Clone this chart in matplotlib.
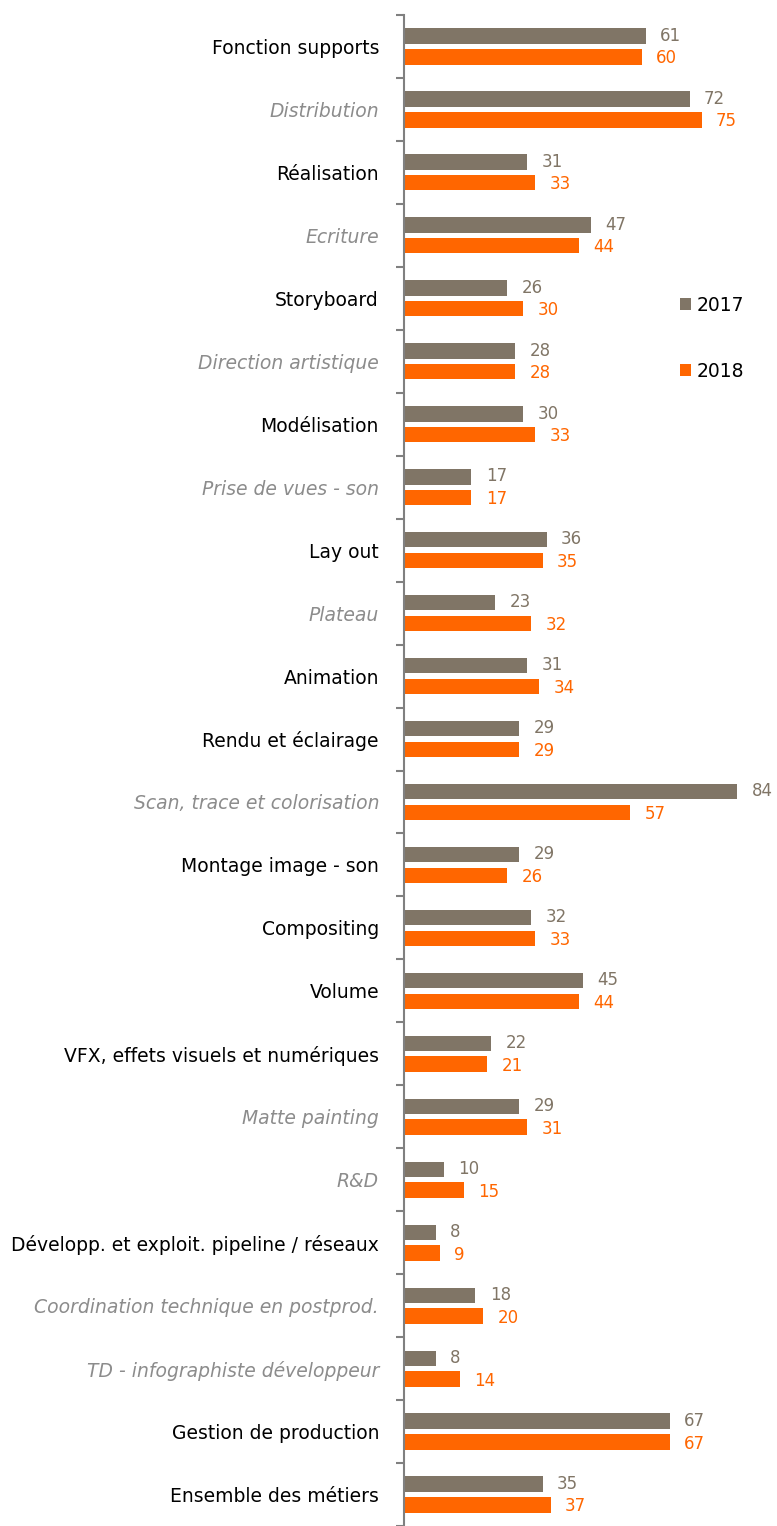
import numpy as np
import matplotlib.pyplot as plt

# metiers, top to bottom
categories = ['Fonction supports', 'Distribution', 'Réalisation', 'Ecriture', 'Storyboard',
              'Direction artistique', 'Modélisation', 'Prise de vues - son', 'Lay out', 'Plateau',
              'Animation', 'Rendu et éclairage', 'Scan, trace et colorisation', 'Montage image - son',
              'Compositing', 'Volume', 'VFX, effets visuels et numériques', 'Matte painting', 'R&D',
              'Développ. et exploit. pipeline / réseaux', 'Coordination technique en postprod.',
              'TD - infographiste développeur', 'Gestion de production', 'Ensemble des métiers']
italic_cats = ['Distribution', 'Ecriture', 'Direction artistique', 'Prise de vues - son', 'Plateau',
               'Scan, trace et colorisation', 'Matte painting', 'R&D',
               'Coordination technique en postprod.', 'TD - infographiste développeur']
v2017 = [61, 72, 31, 47, 26, 28, 30, 17, 36, 23, 31, 29, 84, 29, 32, 45, 22, 29, 10, 8, 18, 8, 67, 35]
v2018 = [60, 75, 33, 44, 30, 28, 33, 17, 35, 32, 34, 29, 57, 26, 33, 44, 21, 31, 15, 9, 20, 14, 67, 37]

c17 = '#807566'
c18 = '#ff6600'

fig = plt.figure(figsize=(7.77, 15.26), dpi=100)
ax = fig.add_axes([404 / 777, 0, 1 - 404 / 777, (1526 - 15) / 1526])

y = np.arange(len(categories))
h = 0.245
b1 = ax.barh(y - 0.165, v2017, height=h, color=c17, label='2017')
b2 = ax.barh(y + 0.165, v2018, height=h, color=c18, label='2018')

for yy, v in zip(y, v2017):
    ax.text(v + 3.6, yy - 0.17, str(v), color=c17, fontsize=12, va='center', ha='left')
for yy, v in zip(y, v2018):
    ax.text(v + 3.6, yy + 0.19, str(v), color=c18, fontsize=12, va='center', ha='left')

ax.set_xlim(0, 94)
ax.set_ylim(len(categories) - 0.5, -0.5)

for s in ['top', 'right', 'bottom']:
    ax.spines[s].set_visible(False)
ax.spines['left'].set_color('#808080')
ax.spines['left'].set_linewidth(1.5)
ax.set_xticks([])

ax.set_yticks(y)
ax.set_yticklabels(categories, fontsize=13.5)
ax.tick_params(axis='y', which='major', length=0, pad=18)
ax.set_yticks(np.arange(len(categories) + 1) - 0.5, minor=True)
ax.tick_params(axis='y', which='minor', length=6, width=1.5, color='#808080')
for lab in ax.get_yticklabels():
    if lab.get_text() in italic_cats:
        lab.set_style('italic')
        lab.set_color('#8c8c8c')
    else:
        lab.set_color('black')

fig.legend(handles=[b1, b2], loc='upper left', bbox_to_anchor=(680 / 777, 1 - 296 / 1526),
           frameon=False, fontsize=13.5, handlelength=0.6, handleheight=0.6, handletextpad=0.3,
           labelspacing=2.5, borderaxespad=0, borderpad=0)

fig.savefig('out.png', dpi=100)
